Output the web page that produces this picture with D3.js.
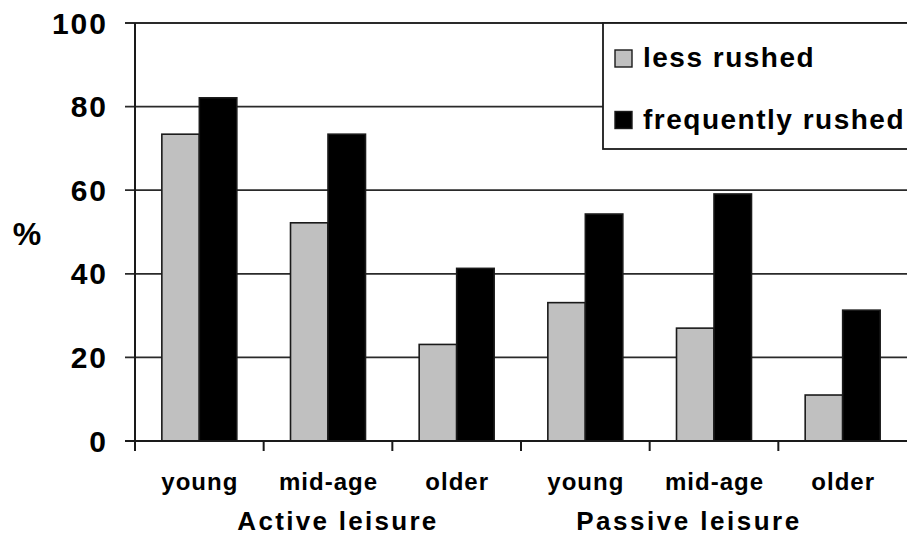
<!DOCTYPE html>
<html>
<head>
<meta charset="utf-8">
<script src="https://cdn.jsdelivr.net/npm/d3@7"></script>
<style>
  html, body { margin: 0; padding: 0; background: #fff; }
  svg { display: block; }
  text { font-family: "Liberation Sans", Arial, sans-serif; font-weight: bold; fill: #000; }
</style>
</head>
<body>
<svg id="chart" width="907" height="535"></svg>
<script>
// ---- data ----
const categories = ["young", "mid-age", "older", "young", "mid-age", "older"];
const groups = ["Active leisure", "Passive leisure"];
const seriesNames = ["less rushed", "frequently rushed"];
const lessRushed = [73.4, 52.2, 23.1, 33.1, 27.0, 11.0];
const frequentlyRushed = [82.1, 73.4, 41.3, 54.3, 59.1, 31.3];
const yTicks = [0, 20, 40, 60, 80, 100];
const yLabel = "%";

const colors = ["#c0c0c0", "#000000"];

const svg = d3.select("#chart");
const W = 907, H = 535;
const plotLeft = 135, plotRight = 907, plotTop = 23, plotBottom = 441;

const idx = d3.range(categories.length);
const x = d3.scaleBand().domain(idx).range([plotLeft, plotRight]).paddingInner(0).paddingOuter(0);
const x1 = d3.scaleBand().domain([0, 1]).range([0, x.bandwidth()]).paddingInner(0).paddingOuter(0.716);
const y = d3.scaleLinear().domain([0, 100]).range([plotBottom, plotTop]);

// gridlines (extend left as ticks)
svg.append("g").selectAll("line").data(yTicks.filter(d => d > 0)).join("line")
  .attr("x1", plotLeft - 10).attr("x2", W)
  .attr("y1", d => y(d)).attr("y2", d => y(d))
  .attr("stroke", "#2a2a2a").attr("stroke-width", 1.8);

// bars
const data = idx.map(i => [lessRushed[i], frequentlyRushed[i]]);
const gBars = svg.append("g");
idx.forEach(i => {
  data[i].forEach((v, s) => {
    gBars.append("rect")
      .attr("x", x(i) + x1(s))
      .attr("y", y(v))
      .attr("width", x1.bandwidth())
      .attr("height", y(0) - y(v))
      .attr("fill", colors[s])
      .attr("stroke", "#1a1a1a")
      .attr("stroke-width", 1.6);
  });
});

// axes lines
svg.append("line").attr("x1", plotLeft).attr("x2", plotLeft).attr("y1", plotTop).attr("y2", plotBottom)
  .attr("stroke", "#1a1a1a").attr("stroke-width", 2);
svg.append("line").attr("x1", plotLeft - 10).attr("x2", W).attr("y1", plotBottom).attr("y2", plotBottom)
  .attr("stroke", "#1a1a1a").attr("stroke-width", 2);

// x ticks at band boundaries
svg.append("g").selectAll("line").data(idx).join("line")
  .attr("x1", d => x(d)).attr("x2", d => x(d))
  .attr("y1", plotBottom).attr("y2", plotBottom + 10)
  .attr("stroke", "#1a1a1a").attr("stroke-width", 2);

// y tick labels
svg.append("g").selectAll("text").data(yTicks).join("text")
  .attr("x", 108).attr("y", d => y(d) + 10.6)
  .attr("text-anchor", "end")
  .style("font-size", "30px").style("letter-spacing", "2px")
  .text(d => d);

// y label
svg.append("text").attr("x", 27).attr("y", 245).attr("text-anchor", "middle")
  .style("font-size", "32px").text(yLabel);

// category labels
svg.append("g").selectAll("text").data(idx).join("text")
  .attr("x", d => x(d) + x.bandwidth() / 2 + 0.5)
  .attr("y", 490)
  .attr("text-anchor", "middle")
  .style("font-size", "24px").style("letter-spacing", "1px")
  .text(d => categories[d]);

// group labels
const groupX = [x(1) + x.bandwidth() / 2 + 10, x(4) + x.bandwidth() / 2 - 25];
svg.append("g").selectAll("text").data(groups).join("text")
  .attr("x", (d, i) => groupX[i])
  .attr("y", 530)
  .attr("text-anchor", "middle")
  .style("font-size", "26px").style("letter-spacing", (d, i) => i === 0 ? "2.3px" : "2.5px")
  .text(d => d);

// legend
const lg = svg.append("g");
lg.append("rect").attr("x", 603).attr("y", 23).attr("width", 320).attr("height", 126)
  .attr("fill", "#fff").attr("stroke", "#1a1a1a").attr("stroke-width", 1.8);
const legendRows = [58.5, 120];
seriesNames.forEach((name, i) => {
  lg.append("rect").attr("x", 615).attr("y", legendRows[i] - 8.5).attr("width", 17).attr("height", 17)
    .attr("fill", colors[i]).attr("stroke", "#1a1a1a").attr("stroke-width", 1.4);
  lg.append("text").attr("x", 643).attr("y", legendRows[i] + 8.5)
    .style("font-size", "28px").style("letter-spacing", "1.5px")
    .text(name);
});
</script>
</body>
</html>
